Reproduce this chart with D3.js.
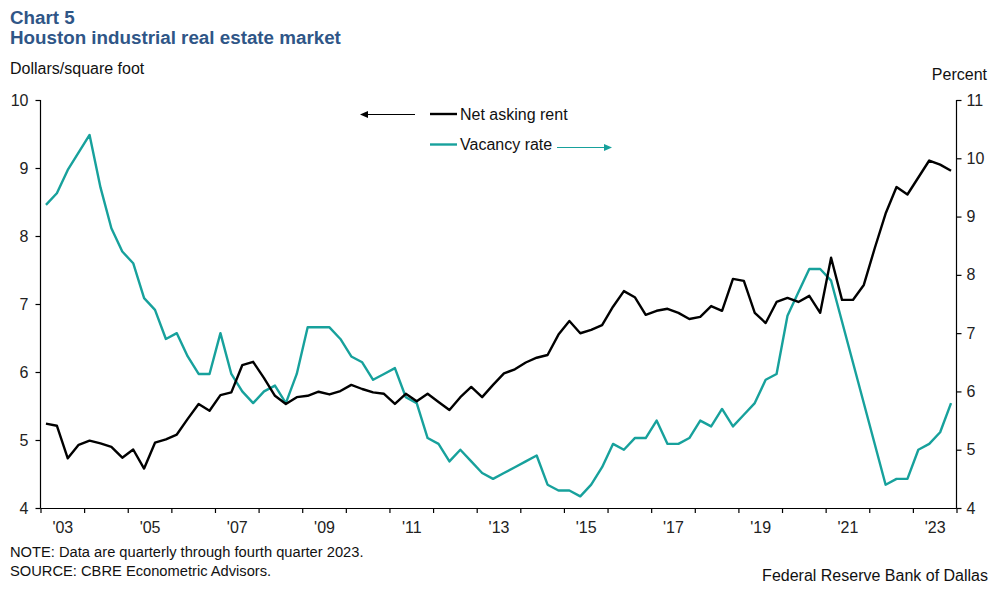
<!DOCTYPE html>
<html>
<head>
<meta charset="utf-8">
<script src="https://cdn.jsdelivr.net/npm/d3@7/dist/d3.min.js"></script>
<style>
  html, body { margin: 0; padding: 0; background: #fff; }
  svg { display: block; font-family: "Liberation Sans", Arial, sans-serif; }
  .axis path, .axis line { stroke: #000; stroke-width: 1.2; }
  .axis text { fill: #222; font-size: 16px; font-family: "Liberation Sans", Arial, sans-serif; }
</style>
</head>
<body>
<script>
// Quarterly data, 2003 Q1 through 2023 Q4
const startYear = 2003;
const rent = [
  5.24, 5.21, 4.73, 4.93, 4.99, 4.95, 4.90, 4.74, 4.86, 4.58, 4.96, 5.01, 5.08, 5.31,
  5.53, 5.43, 5.66, 5.70, 6.10, 6.15, 5.91, 5.65, 5.53, 5.63, 5.65, 5.71, 5.67, 5.72,
  5.81, 5.75, 5.70, 5.68, 5.53, 5.68, 5.57, 5.68, 5.56, 5.44, 5.63, 5.78, 5.63, 5.81,
  5.98, 6.04, 6.14, 6.21, 6.25, 6.55, 6.75, 6.57, 6.62, 6.69, 6.96, 7.19, 7.10, 6.84,
  6.90, 6.93, 6.87, 6.78, 6.81, 6.97, 6.90, 7.37, 7.34, 6.87, 6.72, 7.03, 7.09, 7.03,
  7.12, 6.87, 7.68, 7.06, 7.06, 7.28, 7.82, 8.33, 8.72, 8.61, 8.86, 9.11, 9.05, 8.96
];
const vacancy = [
  9.2, 9.4, 9.8, 10.1, 10.4, 9.5, 8.8, 8.4, 8.2, 7.6, 7.4, 6.9, 7.0, 6.6,
  6.3, 6.3, 7.0, 6.3, 6.0, 5.8, 6.0, 6.1, 5.8, 6.3, 7.1, 7.1, 7.1, 6.9,
  6.6, 6.5, 6.2, 6.3, 6.4, 5.9, 5.8, 5.2, 5.1, 4.8, 5.0, 4.8, 4.6, 4.5,
  4.6, 4.7, 4.8, 4.9, 4.4, 4.3, 4.3, 4.2, 4.4, 4.7, 5.1, 5.0, 5.2, 5.2,
  5.5, 5.1, 5.1, 5.2, 5.5, 5.4, 5.7, 5.4, 5.6, 5.8, 6.2, 6.3, 7.3, 7.7,
  8.1, 8.1, 7.9, null, null, null, null, 4.4, 4.5, 4.5, 5.0, 5.1, 5.3, 5.8
];
const leftTicks = [4, 5, 6, 7, 8, 9, 10];
const rightTicks = [4, 5, 6, 7, 8, 9, 10, 11];
const yearLabels = ["'03", "'05", "'07", "'09", "'11", "'13", "'15", "'17", "'19", "'21", "'23"];
const labelYears = [2003, 2005, 2007, 2009, 2011, 2013, 2015, 2017, 2019, 2021, 2023];
const seriesNames = ["Net asking rent", "Vacancy rate"];

const W = 997, H = 589;
const teal = "#17a19c";
const titleColor = "#2f5687";

const svg = d3.select("body").append("svg").attr("width", W).attr("height", H);

const x = d3.scaleLinear().domain([2003, 2024]).range([40.5, 956.5]);
const yL = d3.scaleLinear().domain([4, 10]).range([508, 100]);
const yR = d3.scaleLinear().domain([4, 11]).range([508, 100]);

const qx = i => startYear + (i + 0.5) / 4;

// Titles
svg.append("text").attr("x", 10).attr("y", 23.5).attr("fill", titleColor)
  .attr("font-size", 18.8).attr("font-weight", "bold").text("Chart 5");
svg.append("text").attr("x", 10).attr("y", 43.5).attr("fill", titleColor)
  .attr("font-size", 18.8).attr("font-weight", "bold")
  .text("Houston industrial real estate market");
svg.append("text").attr("x", 10).attr("y", 74).attr("fill", "#111")
  .attr("font-size", 16).text("Dollars/square foot");
svg.append("text").attr("x", 987).attr("y", 80).attr("fill", "#111")
  .attr("font-size", 16).attr("text-anchor", "end").text("Percent");

// Axes
const gL = svg.append("g").attr("class", "axis").attr("transform", "translate(40.5,0)")
  .call(d3.axisLeft(yL).tickValues(leftTicks).tickSize(5).tickPadding(7).tickFormat(d3.format("d")));
const gR = svg.append("g").attr("class", "axis").attr("transform", "translate(956.5,0)")
  .call(d3.axisRight(yR).tickValues(rightTicks).tickSize(5).tickPadding(5).tickFormat(d3.format("d")));
const gX = svg.append("g").attr("class", "axis").attr("transform", "translate(0,508)")
  .call(d3.axisBottom(x).tickValues(d3.range(2003, 2025)).tickSize(5).tickFormat(""));
gX.select(".domain").attr("d", "M40.5,0.5H956.5");
gL.select(".domain").attr("d", "M0,100V508");
gR.select(".domain").attr("d", "M0,100V508");

svg.append("g").attr("class", "axis").attr("transform", "translate(0,508)")
  .call(d3.axisBottom(x).tickValues(labelYears.map(y => y + 0.5)).tickSize(0).tickPadding(14)
    .tickFormat((d, i) => yearLabels[i]))
  .select(".domain").remove();

// Lines
const rentData = rent.map((v, i) => ({ t: qx(i), v }));
const vacData = vacancy.map((v, i) => ({ t: qx(i), v })).filter(d => d.v !== null);

svg.append("path").datum(vacData)
  .attr("fill", "none").attr("stroke", teal).attr("stroke-width", 2.4).attr("stroke-linejoin", "round")
  .attr("d", d3.line().x(d => x(d.t)).y(d => yR(d.v)));
svg.append("path").datum(rentData)
  .attr("fill", "none").attr("stroke", "#000").attr("stroke-width", 2.4).attr("stroke-linejoin", "round")
  .attr("d", d3.line().x(d => x(d.t)).y(d => yL(d.v)));

// Legend
const lg = svg.append("g");
lg.append("line").attr("x1", 430).attr("x2", 457).attr("y1", 114).attr("y2", 114)
  .attr("stroke", "#000").attr("stroke-width", 2.4);
lg.append("text").attr("x", 460).attr("y", 119.5).attr("font-size", 16).attr("fill", "#111").text(seriesNames[0]);
lg.append("line").attr("x1", 430).attr("x2", 457).attr("y1", 144.5).attr("y2", 144.5)
  .attr("stroke", teal).attr("stroke-width", 2.4);
lg.append("text").attr("x", 460).attr("y", 150).attr("font-size", 16).attr("fill", "#111").text(seriesNames[1]);

// Arrows
lg.append("line").attr("x1", 367).attr("x2", 415).attr("y1", 114.5).attr("y2", 114.5)
  .attr("stroke", "#000").attr("stroke-width", 1);
lg.append("path").attr("d", "M360,114.5L368,111L368,118Z").attr("fill", "#000");
lg.append("line").attr("x1", 557).attr("x2", 605).attr("y1", 147.5).attr("y2", 147.5)
  .attr("stroke", teal).attr("stroke-width", 1);
lg.append("path").attr("d", "M612,147.5L604,144L604,151Z").attr("fill", teal);

// Notes
svg.append("text").attr("x", 10).attr("y", 557).attr("font-size", 14.7).attr("fill", "#111")
  .text("NOTE: Data are quarterly through fourth quarter 2023.");
svg.append("text").attr("x", 10).attr("y", 576).attr("font-size", 14.7).attr("fill", "#111")
  .text("SOURCE: CBRE Econometric Advisors.");
svg.append("text").attr("x", 988).attr("y", 581).attr("font-size", 16).attr("fill", "#111")
  .attr("text-anchor", "end").text("Federal Reserve Bank of Dallas");
</script>
</body>
</html>
